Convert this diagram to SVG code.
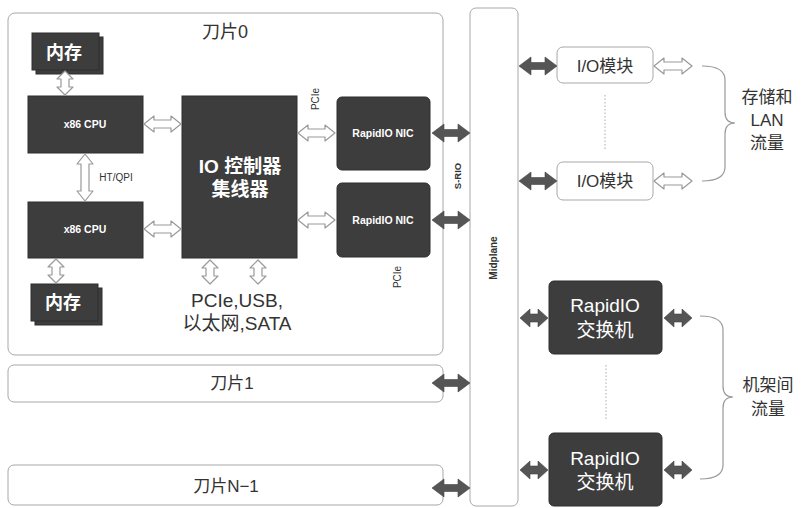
<svg xmlns="http://www.w3.org/2000/svg" width="805" height="508" viewBox="0 0 805 508">
<style>
text{font-family:"Liberation Sans","Noto Sans CJK SC",sans-serif;text-anchor:middle;dominant-baseline:central}
.frame{fill:#fff;stroke:#a8a8a8;stroke-width:1}
.dark{fill:#3d3d3d;stroke:#2e2e2e;stroke-width:1}
.wt{fill:#fff;font-weight:bold}
.wn{fill:#fff}
.bt{fill:#333}
.hollow{fill:#fff;stroke:#999;stroke-width:1.2;stroke-linejoin:round}
.solid{fill:#555;stroke:#444;stroke-width:0.6}
.brace{fill:none;stroke:#999;stroke-width:1.2}
.dots{stroke:#aaa;stroke-width:1;stroke-dasharray:1.5 2}
</style>
<rect width="805" height="508" fill="#fff"/>

<g id="blade0">
<rect class="frame" x="8" y="13" width="435" height="342" rx="7"/>
<text class="bt" x="225" y="32" font-size="18">刀片0</text>
</g>
<g id="mem-top">
<rect class="dark" x="36" y="37" width="67" height="37"/>
<rect class="dark" x="32" y="33" width="67" height="37"/>
<text class="wt" x="64" y="53" font-size="18">内存</text>
</g>
<g id="cpu1">
<rect class="dark" x="28" y="96" width="115" height="57"/>
<text class="wt" x="85" y="124" font-size="10.5">x86 CPU</text>
</g>
<g id="cpu2">
<rect class="dark" x="28" y="202" width="115" height="56"/>
<text class="wt" x="85" y="229" font-size="10.5">x86 CPU</text>
</g>
<g id="mem-bottom">
<rect class="dark" x="35" y="288" width="67" height="37"/>
<rect class="dark" x="31" y="284" width="67" height="37"/>
<text class="wt" x="63" y="303" font-size="18">内存</text>
</g>
<g id="io-hub">
<rect class="dark" x="182" y="96" width="115" height="162"/>
<text class="wt" x="240" y="166" font-size="19">IO 控制器</text>
<text class="wt" x="240" y="189" font-size="19">集线器</text>
</g>
<g id="nic1">
<rect class="dark" x="337" y="97" width="93" height="73" rx="5"/>
<text class="wt" x="383" y="133" font-size="10.5">RapidIO NIC</text>
</g>
<g id="nic2">
<rect class="dark" x="337" y="183" width="93" height="74" rx="5"/>
<text class="wt" x="383" y="220" font-size="10.5">RapidIO NIC</text>
</g>
<g id="blade1">
<rect class="frame" x="8" y="365" width="435" height="37" rx="6"/>
<text class="bt" x="232" y="383" font-size="17">刀片1</text>
</g>
<g id="bladeN-1">
<rect class="frame" x="8" y="465" width="435" height="40" rx="6"/>
<text class="bt" x="226" y="486" font-size="17">刀片N−1</text>
</g>
<g id="midplane">
<rect class="frame" x="470" y="8" width="48" height="498" rx="6"/>
<text class="bt" font-size="10" font-weight="bold" transform="translate(493,258) rotate(-90)">Midplane</text>
</g>
<g id="io-module1">
<rect class="frame" x="557" y="47" width="96" height="36" rx="6"/>
<text class="bt" x="605" y="66" font-size="17">I/O模块</text>
</g>
<g id="io-module2">
<rect class="frame" x="557" y="162" width="96" height="38" rx="6"/>
<text class="bt" x="605" y="181" font-size="17">I/O模块</text>
</g>
<g id="switch1">
<rect class="dark" x="549" y="281" width="113" height="73" rx="5"/>
<text class="wn" x="605" y="305" font-size="19">RapidIO</text>
<text class="wn" x="605" y="330" font-size="19">交换机</text>
</g>
<g id="switch2">
<rect class="dark" x="549" y="433" width="113" height="73" rx="5"/>
<text class="wn" x="605" y="458" font-size="19">RapidIO</text>
<text class="wn" x="605" y="482" font-size="19">交换机</text>
</g>
<g id="label-storage">
<text class="bt" x="767" y="97" font-size="17">存储和</text>
<text class="bt" x="767" y="120" font-size="17">LAN</text>
<text class="bt" x="767" y="143" font-size="17">流量</text>
</g>
<g id="label-rack">
<text class="bt" x="768" y="385" font-size="17">机架间</text>
<text class="bt" x="768" y="409" font-size="17">流量</text>
</g>

<g id="connectors">
<path class="hollow" d="M65,71 L73,79 L69,79 L69,87 L73,87 L65,95 L57,87 L61,87 L61,79 L57,79 Z"/>
<path class="hollow" d="M85,154 L93,164 L89,164 L89,191 L93,191 L85,201 L77,191 L81,191 L81,164 L77,164 Z"/>
<path class="hollow" d="M56,259 L64,267 L60,267 L60,275 L64,275 L56,283 L48,275 L52,275 L52,267 L48,267 Z"/>
<path class="hollow" d="M210,260 L218,268 L214,268 L214,276 L218,276 L210,284 L202,276 L206,276 L206,268 L202,268 Z"/>
<path class="hollow" d="M258,260 L266,268 L262,268 L262,276 L266,276 L258,284 L250,276 L254,276 L254,268 L250,268 Z"/>
<path class="hollow" d="M144,124 L154,116 L154,120 L171,120 L171,116 L181,124 L171,132 L171,128 L154,128 L154,132 Z"/>
<path class="hollow" d="M144,229 L154,221 L154,225 L171,225 L171,221 L181,229 L171,237 L171,233 L154,233 L154,237 Z"/>
<path class="hollow" d="M298,133 L308,125 L308,129 L325,129 L325,125 L335,133 L325,141 L325,137 L308,137 L308,141 Z"/>
<path class="hollow" d="M298,220 L308,212 L308,216 L325,216 L325,212 L335,220 L325,228 L325,224 L308,224 L308,228 Z"/>
<path class="hollow" d="M654,66 L664,58 L664,62 L682,62 L682,58 L692,66 L682,74 L682,70 L664,70 L664,74 Z"/>
<path class="hollow" d="M654,181 L664,173 L664,177 L682,177 L682,173 L692,181 L682,189 L682,185 L664,185 L664,189 Z"/>

<path class="solid" d="M432,133 L444,124 L444,129.5 L458,129.5 L458,124 L470,133 L458,142 L458,136.5 L444,136.5 L444,142 Z"/>
<path class="solid" d="M432,220 L444,211 L444,216.5 L458,216.5 L458,211 L470,220 L458,229 L458,223.5 L444,223.5 L444,229 Z"/>
<path class="solid" d="M432,383 L444,374 L444,379.5 L458,379.5 L458,374 L470,383 L458,392 L458,386.5 L444,386.5 L444,392 Z"/>
<path class="solid" d="M432,488 L444,479 L444,484.5 L458,484.5 L458,479 L470,488 L458,497 L458,491.5 L444,491.5 L444,497 Z"/>
<path class="solid" d="M519,66 L531,57 L531,62.5 L545,62.5 L545,57 L557,66 L545,75 L545,69.5 L531,69.5 L531,75 Z"/>
<path class="solid" d="M519,181 L531,172 L531,177.5 L545,177.5 L545,172 L557,181 L545,190 L545,184.5 L531,184.5 L531,190 Z"/>
<path class="solid" d="M520,318 L530,309 L530,314 L538,314 L538,309 L548,318 L538,327 L538,322 L530,322 L530,327 Z"/>
<path class="solid" d="M520,470 L530,461 L530,466 L538,466 L538,461 L548,470 L538,479 L538,474 L530,474 L530,479 Z"/>
<path class="solid" d="M664,318 L674,309 L674,314 L682,314 L682,309 L692,318 L682,327 L682,322 L674,322 L674,327 Z"/>
<path class="solid" d="M664,470 L674,461 L674,466 L682,466 L682,461 L692,470 L682,479 L682,474 L674,474 L674,479 Z"/>

<line class="dots" x1="605" y1="95" x2="605" y2="150"/>
<line class="dots" x1="606" y1="365" x2="606" y2="420"/>
<path class="brace" d="M702,66 Q725,66 725,80 L725,112 Q725,123 735,123 Q725,123 725,134 L725,167 Q725,181 702,181"/>
<path class="brace" d="M700,316 Q723,316 723,330 L723,386 Q723,397 733,397 Q723,397 723,408 L723,465 Q723,479 700,479"/>

<text class="bt" font-size="10" transform="translate(315,99) rotate(-90)">PCIe</text>
<text class="bt" font-size="10" transform="translate(397,277) rotate(-90)">PCIe</text>
<text class="bt" font-size="9.5" font-weight="bold" transform="translate(457,176) rotate(-90)">S-RIO</text>
<text class="bt" x="116" y="177" font-size="10">HT/QPI</text>
<text class="bt" x="237" y="300" font-size="19">PCIe,USB,</text>
<text class="bt" x="237" y="323" font-size="19">以太网,SATA</text>
</g>
</svg>
